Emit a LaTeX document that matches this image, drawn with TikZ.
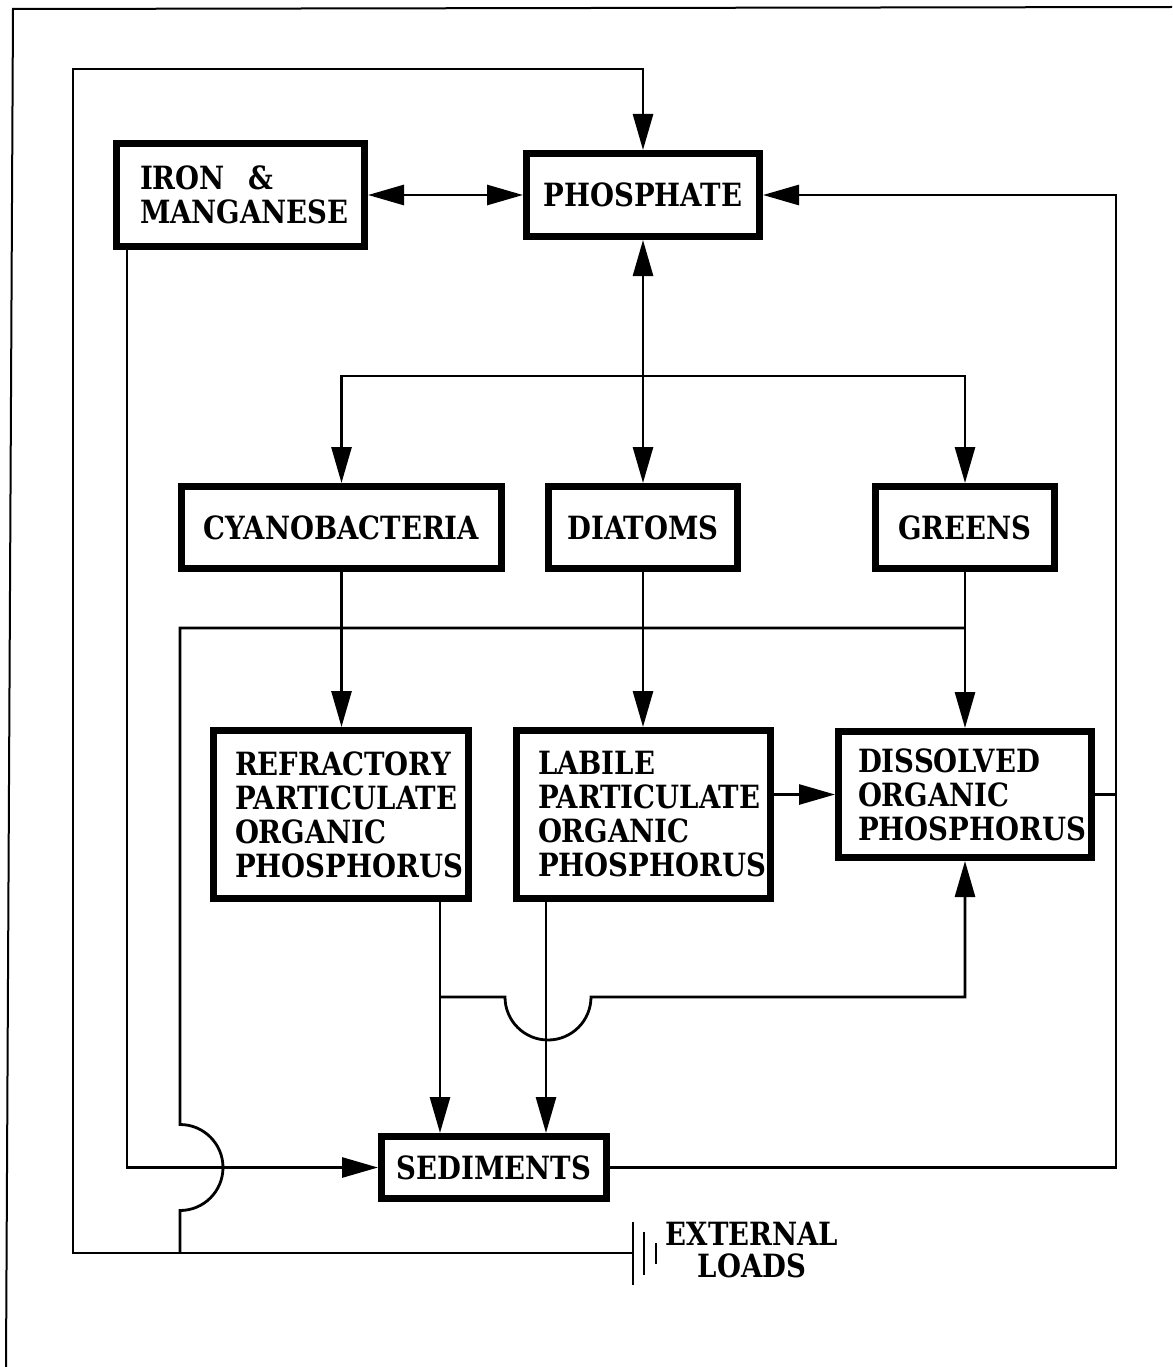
\documentclass[tikz,border=0pt]{standalone}
\usepackage{fontspec}
\setmainfont{DejaVu Serif}[FakeStretch=0.86]
\usetikzlibrary{arrows.meta}
\hyphenpenalty=10000
\uchyph=0
\begin{document}
\begin{tikzpicture}[x=1pt,y=-1pt,
  lbl/.style={font=\bfseries\fontsize{32}{34}\selectfont},
  box/.style={draw, line width=7pt, inner sep=0pt, lbl},
  conn/.style={line width=2.8pt},
  arr/.style={conn, -{Triangle[length=36pt,width=20pt]}},
  darr/.style={conn, {Triangle[length=36pt,width=20pt]}-{Triangle[length=36pt,width=20pt]}},
  frame/.style={line width=2pt}
]
\useasboundingbox (0,0) rectangle (1172,1367);
\draw[frame] (1172,7) -- (13,9) -- (6,1367);

% boxes
\node[box, minimum width=248pt, minimum height=103pt, text width=201pt, align=left] (iron) at (240.5,195) {IRON\hspace{24pt}\&\\MANGANESE};
\node[box, minimum width=233pt, minimum height=83pt, align=center] (phos) at (643,195) {PHOSPHATE};
\node[box, minimum width=320pt, minimum height=82pt, align=center] (cyano) at (341.5,527.5) {CYANOBACTERIA};
\node[box, minimum width=189pt, minimum height=82pt, align=center] (diat) at (643,527.5) {DIATOMS};
\node[box, minimum width=179pt, minimum height=82pt, align=center] (greens) at (965,527.5) {GREENS};
\node[box, minimum width=255pt, minimum height=168pt, text width=212pt, align=left] (refr) at (341,814.5) {REFRACTORY\\PARTICULATE\\ORGANIC\\PHOSPHORUS};
\node[box, minimum width=254pt, minimum height=168pt, text width=211pt, align=left] (lab) at (643.5,814.5) {LABILE\\PARTICULATE\\ORGANIC\\PHOSPHORUS};
\node[box, minimum width=253pt, minimum height=126pt, text width=214pt, align=left] (dop) at (965,794.5) {DISSOLVED\\ORGANIC\\PHOSPHORUS};
\node[box, minimum width=225pt, minimum height=62pt, align=center] (sed) at (494,1167.5) {SEDIMENTS};
\node[font=\bfseries\fontsize{32}{32}\selectfont, align=center] (extl) at (752,1250) {EXTERNAL\\LOADS};

% coordinates
\coordinate (split) at (643,376);
\coordinate (ext) at (633,1253);
\coordinate (rt) at (1116,1167.5);
\coordinate (j1) at (440,997);

% connectors
\draw[darr] (iron.east) -- (phos.west);
\draw[darr] (phos.south) -- (diat.north);
\draw[arr] (split) -| (cyano.north);
\draw[arr] (split) -| (greens.north);
\draw[arr] (cyano.south) -- (cyano.south |- refr.north);
\draw[arr] (diat.south) -- (diat.south |- lab.north);
\draw[arr] (greens.south) -- (dop.north);
\draw[arr] (lab.east |- dop.west) -- (dop.west);
\draw[arr] ([xshift=99pt]refr.south) -- ([xshift=99pt]refr.south |- sed.north);
\draw[arr] ([xshift=-97.5pt]lab.south) -- ([xshift=-97.5pt]lab.south |- sed.north);
\draw[arr] (j1) -- (505,997) arc[start angle=180, end angle=360, radius=43pt] -- (dop.south |- j1) -- (dop.south);
\draw[arr] (sed.east) -- (rt) |- (phos.east);
\draw[conn] (dop.east) -- (dop.east -| rt);
\draw[arr] ([xshift=-113.5pt]iron.south) |- (sed.west);
\draw[arr] (ext) -- (73,1253) -- (73,69) -| (phos.north);
\draw[conn] (180,1253) -- (180,1210.5) arc[start angle=-90, end angle=90, radius=43pt] -- (180,628) -- (greens.south |- 0,628);

% external loads symbol
\draw[conn] (633,1222) -- (633,1285);
\draw[conn] (644,1232) -- (644,1275);
\draw[conn] (656,1243) -- (656,1264);
\end{tikzpicture}
\end{document}
